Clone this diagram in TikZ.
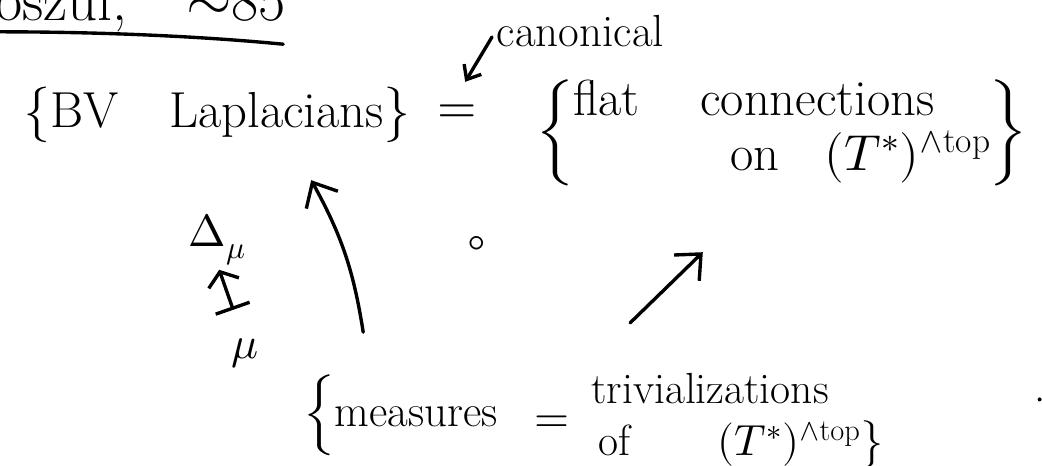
\documentclass[tikz,border=0pt]{standalone}
\usepackage{amsmath}
\usepackage{unicode-math}
\usetikzlibrary{positioning,arrows.meta}

\begin{document}
\begin{tikzpicture}[x=1cm,y=1cm,
  pen/.style={line width=2.4pt,line cap=round},
  arr/.style={pen,-{Straight Barb[length=5mm,width=9mm]}},
  maps/.style={pen,{Bar[width=9mm]}-{Straight Barb[length=3mm,width=8mm]}},
  huge/.style={font=\fontsize{36}{40}\selectfont},
  big/.style={font=\fontsize{32}{38}\selectfont},
  mid/.style={font=\fontsize{31}{36}\selectfont}]
  \useasboundingbox (0,0) rectangle (26.05,11.625);
  \clip (0,0) rectangle (26.05,11.625);
  % heading, cut off at the top edge
  \node[font=\fontsize{42}{46}\selectfont,anchor=base west,inner sep=0pt] (head) at (-1.15,11.12) {Koszul,\quad$\sim$85};
  \draw[pen] (-0.1,10.83) .. controls (2.5,10.83) and (5,10.72) .. (7.08,10.52);
  \node[font=\fontsize{32}{36}\selectfont,anchor=west] (canon) at (12.3,10.85) {canonical};
  \node[huge] (bv) at (5.43,8.75) {$\big\{$BV\quad Laplacians$\big\}$};
  \node[huge] (eqtop) at (11.43,8.78) {$=$};
  \node[huge] (flat) at (19.55,8.3) {\def\arraystretch{0.88}$\left\{\begin{array}{@{}l@{}}\text{flat\hspace{1.2em}connections}\\
    \hspace{3.1em}\text{on}\hspace{0.9em}(T^*)^{\wedge\mathrm{top}}\end{array}\right\}$};
  \node[big] (Dmu) at (5.43,5.63) {$\Delta_\mu$};
  \node[big] (mu) at (6.13,2.8) {$\mu$};
  \node[big] (comp) at (11.93,5.48) {$\circ$};
  \node[big] (meas) at (10.03,1.25) {$\Big\{$measures};
  \node[big] (eqbot) at (13.8,1.03) {$=$};
  \node[mid] (triv) at (17.75,1.9) {trivializations};
  \node[mid] (of) at (18.53,0.5) {of\hspace{2em}$(T^*)^{\wedge\mathrm{top}}\big\}$};
  % arrows
  \draw[pen,-{Straight Barb[length=3mm,width=5mm]}] ([yshift=-0.15cm]canon.west) -- ([shift={(0.2,0.8)}]eqtop.center);
  \draw[arr] ([shift={(-0.95,2.07)}]meas.center) to[bend right=10] ([shift={(2.35,-1.63)}]bv.center);
  \draw[arr] ([shift={(-2.0,1.65)}]triv.center) -- ([shift={(-1.98,-2.98)}]flat.center);
  \draw[maps] ([shift={(-0.3,1.08)}]mu.center) -- ([shift={(0.05,-0.75)}]Dmu.center);
  \fill (25.99,1.64) circle (0.05);
\end{tikzpicture}
\end{document}
